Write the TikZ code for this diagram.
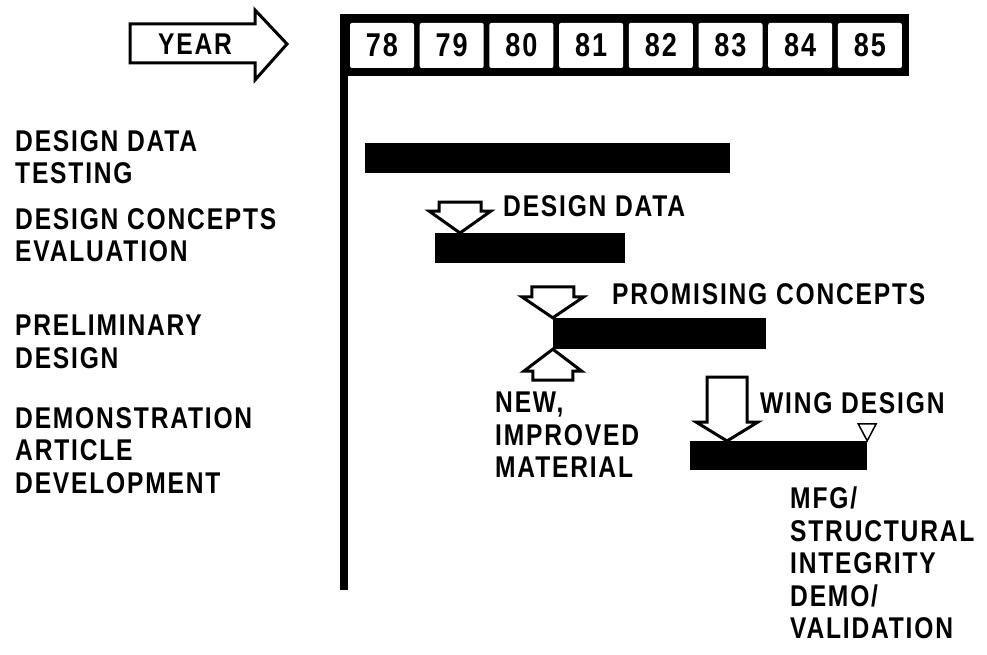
\documentclass[tikz,border=0pt]{standalone}
\usepackage{fontspec}
\newfontfamily\chartfont{Liberation Sans}[FakeStretch=0.82,LetterSpace=6]

\begin{document}
\begin{tikzpicture}[%
    x=1pt, y=-1pt,
    lbl/.style={anchor=north west, inner sep=0pt, align=left, font=\chartfont\bfseries\fontsize{30}{32.5}\selectfont},
    yearbox/.style={rectangle, fill=white, rounded corners=2pt, minimum width=64pt, minimum height=45pt, inner sep=0pt, font=\chartfont\bfseries\fontsize{33}{36}\selectfont},
    barnode/.style={rectangle, fill=black, inner sep=0pt},
    openarrow/.style={draw=black, fill=white, line width=3pt}
]
\useasboundingbox (0,0) rectangle (987,655);

% year header
\draw[openarrow] (130,24) -- (255,24) -- (255,10) -- (287,44) -- (255,80) -- (255,63) -- (130,63) -- cycle;
\node[lbl, anchor=center] (year) at (195,44) {YEAR};

\fill (340,14) rectangle (909,76);
\fill (340,14) rectangle (348,590);
\foreach \n [count=\i from 0] in {78,...,85}
    \node[yearbox] (y\n) at (382+69.7*\i,45.5) {\n};

% phase labels
\node[lbl] (testing) at (15,130) {DESIGN DATA\\TESTING};
\node[lbl] (evaluation) at (15,208) {DESIGN CONCEPTS\\EVALUATION};
\node[lbl] (preliminary) at (15,315) {PRELIMINARY\\DESIGN};
\node[lbl] (demonstration) at (15,407) {DEMONSTRATION\\ARTICLE\\DEVELOPMENT};

% bars
\node[barnode, minimum width=365pt, minimum height=30pt] (testbar) at (547.5,158) {};
\node[barnode, minimum width=190pt, minimum height=30pt] (evalbar) at (530,248) {};
\node[barnode, minimum width=213pt, minimum height=31pt] (prelimbar) at (659.5,333.5) {};
\node[barnode, minimum width=177pt, minimum height=29pt] (demobar) at (778.5,455.5) {};

% inputs
\draw[openarrow] (460,233) -- ++(-31,-22) -- ++(10,0) -- ++(0,-9) -- ++(42,0) -- ++(0,9) -- ++(10,0) -- cycle;
\node[lbl] (designdata) at (503,195) {DESIGN DATA};

\draw[openarrow] (prelimbar.north west) -- ++(-31,-21) -- ++(10,0) -- ++(0,-10) -- ++(42,0) -- ++(0,10) -- ++(10,0) -- cycle;
\node[lbl] (promising) at (612,283) {PROMISING CONCEPTS};

\draw[openarrow] (prelimbar.south west) -- ++(-29,22) -- ++(9,0) -- ++(0,9) -- ++(40,0) -- ++(0,-9) -- ++(9,0) -- cycle;
\node[lbl] (material) at (495,392) {NEW,\\IMPROVED\\MATERIAL};

\draw[openarrow] (727,441) -- ++(-31,-19) -- ++(11,0) -- ++(0,-45) -- ++(40,0) -- ++(0,45) -- ++(11,0) -- cycle;
\node[lbl] (wing) at (760,392) {WING DESIGN};

% milestone
\draw[line width=1.5pt, fill=white] (demobar.north east) -- ++(-9,-17) -- ++(18,0) -- cycle;
\node[lbl] (validation) at (790,487) {MFG/\\STRUCTURAL\\INTEGRITY\\DEMO/\\VALIDATION};

\end{tikzpicture}
\end{document}
